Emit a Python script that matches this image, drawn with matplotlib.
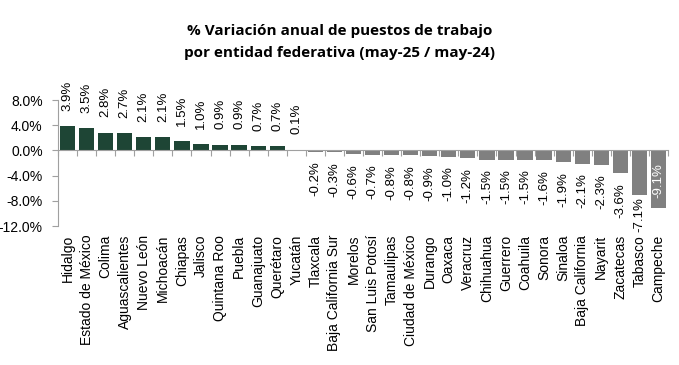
import matplotlib
matplotlib.use("Agg")
import matplotlib.pyplot as plt
import numpy as np

plt.rcParams['font.family'] = ['Liberation Sans', 'DejaVu Sans']

estados = ['Hidalgo', 'Estado de México', 'Colima', 'Aguascalientes', 'Nuevo León',
           'Michoacán', 'Chiapas', 'Jalisco', 'Quintana Roo', 'Puebla', 'Guanajuato',
           'Querétaro', 'Yucatán', 'Tlaxcala', 'Baja California Sur', 'Morelos',
           'San Luis Potosí', 'Tamaulipas', 'Ciudad de México', 'Durango', 'Oaxaca',
           'Veracruz', 'Chihuahua', 'Guerrero', 'Coahuila', 'Sonora', 'Sinaloa',
           'Baja California', 'Nayarit', 'Zacatecas', 'Tabasco', 'Campeche']
variacion = [3.9, 3.5, 2.8, 2.7, 2.1, 2.1, 1.5, 1.0, 0.9, 0.9, 0.7, 0.7, 0.1,
             -0.2, -0.3, -0.6, -0.7, -0.8, -0.8, -0.9, -1.0, -1.2, -1.5, -1.5,
             -1.5, -1.6, -1.9, -2.1, -2.3, -3.6, -7.1, -9.1]
yticks = [8, 4, 0, -4, -8, -12]

VERDE = '#1e4535'
GRIS = '#808080'

fig = plt.figure(figsize=(6.79, 3.65), dpi=100)
ax = fig.add_axes([58/679, 1-226/365, 610/679, 126/365])

x = np.arange(len(estados))
colores = [VERDE if v >= 0 else GRIS for v in variacion]
ax.bar(x, variacion, width=0.8, color=colores)

for i, v in enumerate(variacion):
    txt = f'{v:.1f}%'
    if v <= -8:
        # label inside the bar
        ax.annotate(txt, (i, 0), xytext=(0, -9), textcoords='offset points',
                    rotation=90, ha='center', va='top', fontsize=9.5, color='white')
    elif v >= 0:
        ax.annotate(txt, (i, v), xytext=(0, 11), textcoords='offset points',
                    rotation=90, ha='center', va='bottom', fontsize=9.5)
    elif v <= -5:
        ax.annotate(txt, (i, v), xytext=(0, -1.5), textcoords='offset points',
                    rotation=90, ha='center', va='top', fontsize=9.5)
    else:
        ax.annotate(txt, (i, v), xytext=(0, -7), textcoords='offset points',
                    rotation=90, ha='center', va='top', fontsize=9.5)

ax.set_xlim(-0.5, len(estados) - 0.5)
ax.set_ylim(-12, 8)
ax.set_yticks(yticks)
ax.set_yticklabels([f'{t:.1f}%' for t in yticks], fontsize=10)

ax.spines['top'].set_visible(False)
ax.spines['right'].set_visible(False)
ax.spines['bottom'].set_position(('data', 0))
ax.spines['bottom'].set_color('#a0a0a0')
ax.spines['left'].set_color('#a0a0a0')
ax.tick_params(axis='y', length=4, color='#a0a0a0', pad=7)

# ticks between bars on zero line, names below the plot
ax.set_xticks(np.arange(len(estados) + 1) - 0.5)
ax.set_xticklabels([])
ax.tick_params(axis='x', length=4, direction='out', color='#a0a0a0')
for i, e in enumerate(estados):
    ax.text(i, -13.4, e, rotation=90, ha='center', va='top', fontsize=10)

fig.text(0.5, 1-31/365, '% Variación anual de puestos de trabajo', ha='center',
         va='center', fontsize=11, fontweight='bold', family='Open Sans')
fig.text(0.5, 1-53/365, 'por entidad federativa (may-25 / may-24)', ha='center',
         va='center', fontsize=11, fontweight='bold', family='Open Sans')

fig.savefig('out.png', dpi=100)
